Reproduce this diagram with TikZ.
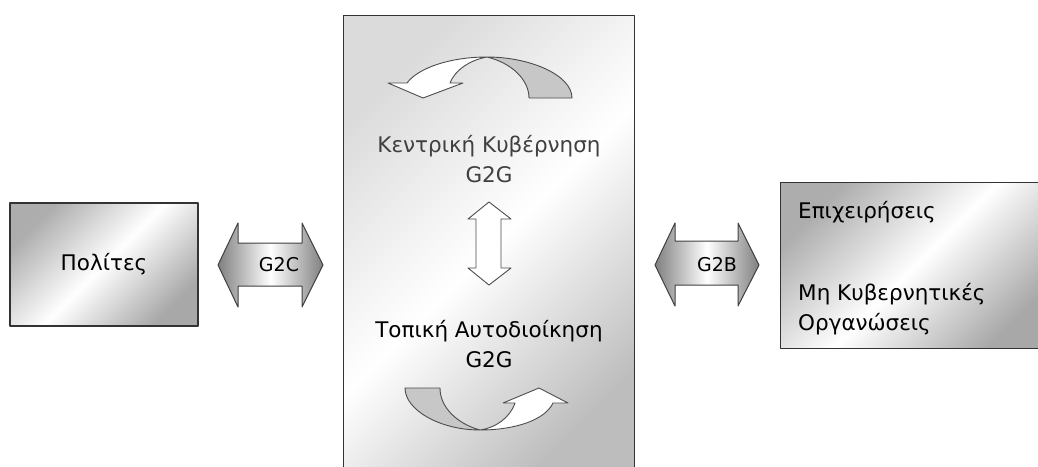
\documentclass[tikz,border=0pt]{standalone}
\usepackage{fontspec}
\setmainfont{DejaVu Sans}

\begin{document}
\begin{tikzpicture}[
    x=1pt, y=-1pt, % pixel grid, y down
    line join=round,
    box/.style={draw=black!80, line width=1.2pt, inner sep=0pt,
        top color=black!32, bottom color=black!34, middle color=white,
        shading angle=45},
    bigbox/.style={box, top color=black!14, bottom color=black!26, middle color=white,
        shading angle=45},
    blockarrow/.style={draw=black!75, line width=1pt,
        left color=black!50, right color=black!50, middle color=white},
    ribbon/.style={draw=black!70, line width=0.9pt},
    label/.style={font=\fontsize{21.5}{30}\selectfont, inner sep=0pt},
    tag/.style={font=\fontsize{19}{22}\selectfont, inner sep=0pt},
]
\useasboundingbox (0,0) rectangle (1038,466);

% the three boxes
\node[box, minimum width=188pt, minimum height=123pt] (citizens) at (104,264.5) {};
\node[bigbox, anchor=north west, minimum width=291pt, minimum height=470pt] (gov) at (343,15) {};
\node[box, anchor=north west, minimum width=270pt, minimum height=166pt] (business) at (780,182) {};

\node[label] (cit) at (citizens.center) {Πολίτες};
\node[label, anchor=base west] (biz) at (798,218) {Επιχειρήσεις};
\node[label, anchor=base west, align=left] (ngo) at (798,330) {Μη Κυβερνητικές\\Οργανώσεις};

\node[label, anchor=base, align=center, text=black!75] (central) at (489,182) {Κεντρική Κυβέρνηση\\G2G};
\node[label, anchor=base, align=center] (local) at (489,367) {Τοπική Αυτοδιοίκηση\\G2G};

% G2C and G2B
\draw[blockarrow] (218,265) -- (238,223) -- (238,243) -- (302,243) -- (302,223)
    -- (323,265) -- (302,307) -- (302,286) -- (238,286) -- (238,307) -- cycle;
\node[tag] (g2c) at (279,265) {G2C};
\draw[blockarrow] (655,265) -- (675,223) -- (675,241) -- (738,241) -- (738,223)
    -- (759,265) -- (738,306) -- (738,285) -- (675,285) -- (675,306) -- cycle;
\node[tag] (g2b) at (717,265) {G2B};

% between central and local
\draw[ribbon, fill=white] (489,202) -- (511,219) -- (501,219) -- (501,268) -- (511,268)
    -- (489,285) -- (468,268) -- (476,268) -- (476,219) -- (468,219) -- cycle;

% curved arrow, top
\filldraw[ribbon, fill=black!22] (529,98) -- (572,98) .. controls (572,75) and (530,57) .. (487,57)
    .. controls (512,63) and (529,80) .. (529,98) -- cycle;
\filldraw[ribbon, fill=white] (487,57) .. controls (450,57) and (418,68) .. (407,83) -- (388,83)
    -- (423,98) -- (463,83) -- (450,83) .. controls (455,70) and (470,60) .. (487,57) -- cycle;

% curved arrow, bottom
\filldraw[ribbon, fill=black!22] (405,388) -- (440,388) .. controls (440,408) and (458,424) .. (480,430)
    .. controls (440,430) and (405,410) .. (405,388) -- cycle;
\filldraw[ribbon, fill=white] (480,430) .. controls (515,430) and (545,420) .. (553,403) -- (568,403)
    -- (539,388) -- (503,403) -- (515,403) .. controls (510,418) and (495,428) .. (480,430) -- cycle;
\end{tikzpicture}
\end{document}
